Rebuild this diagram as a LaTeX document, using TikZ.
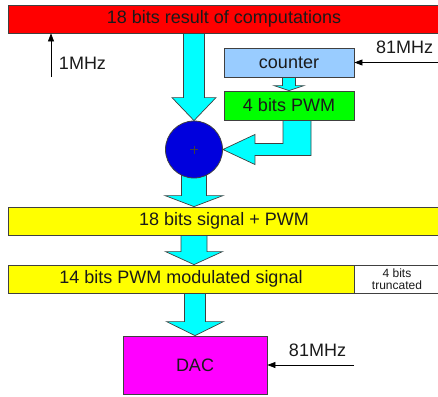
\documentclass[tikz,border=0pt]{standalone}
\usepackage{fontspec}
\setmainfont{Liberation Sans}
\usetikzlibrary{arrows.meta, calc, backgrounds}
\definecolor{cred}{HTML}{FF0000}
\definecolor{ccyan}{HTML}{00FFFF}
\definecolor{csky}{HTML}{99CCFF}
\definecolor{cgreen}{HTML}{00FF00}
\definecolor{cblue}{HTML}{0000DD}
\definecolor{cyellow}{HTML}{FFFF00}
\definecolor{cmagenta}{HTML}{FF00FF}
\definecolor{cline}{HTML}{404040}
\definecolor{ctext}{HTML}{1A1A1A}
\tikzset{
  every picture/.style={font=\fontsize{18}{20}\selectfont, text=ctext},
  bar/.style={draw=cline, fill=#1, line width=0.8pt, minimum height=28pt, inner sep=0pt},
  bar/.default=white,
  fat/.style={draw=cline, fill=ccyan, line width=0.7pt, line join=miter},
  clock/.style={-{Triangle[length=8pt, width=6pt]}, draw=black, line width=0.7pt},
  small/.style={font=\fontsize{12}{13}\selectfont, align=center},
}
% block arrow pointing down: from, tip, half shaft, half head, head length
\newcommand{\fatdown}[5]{%
  \draw[fat] ($(#1)+(-#3,0)$) -- ($(#2)+(-#3,-#5)$) -- ($(#2)+(-#4,-#5)$) -- (#2)
    -- ($(#2)+(#4,-#5)$) -- ($(#2)+(#3,-#5)$) -- ($(#1)+(#3,0)$) -- cycle;}

\begin{document}
\begin{tikzpicture}[x=1pt, y=-1pt]
  \useasboundingbox (0,0) rectangle (438,396);
  \clip (0,0) rectangle (438,396);

  % blocks
  \node[bar=cred, minimum width=432pt] (top) at (224,19) {18 bits result of computations};
  \node[bar=csky, minimum width=130pt, minimum height=29pt] (cnt) at (289,62.5) {counter};
  \node[bar=cgreen, minimum width=130pt, minimum height=29pt] (pwm) at (289,105.5) {4 bits PWM};
  \node[circle, draw=cline, fill=cblue, line width=0.8pt, minimum size=57pt, inner sep=0pt] (sum) at (194,149.5) {};
  \draw[cline, line width=0.5pt] (sum.center) +(-4,0) -- +(4,0) (sum.center) +(0,-4) -- +(0,4);
  \node[bar=cyellow, minimum width=432pt] (sig) at (224,221) {18 bits signal + PWM};
  \node[bar=cyellow, minimum width=346pt] (mod) at (181,279) {14 bits PWM modulated signal};
  \node[bar, minimum width=86pt, small] (trunc) at (397,279) {4 bits\\[-1pt]truncated};
  \node[bar=cmagenta, minimum width=144pt, minimum height=58pt] (dac) at (195,365) {DAC};

  % data flow
  \begin{scope}[on background layer]
    \coordinate (a0) at (top.center -| sum.north);
    \fatdown{a0}{sum.north}{10.5}{22}{23}
    \fatdown{cnt.center}{pwm.north}{6.5}{15}{5}
    \coordinate (a1) at (sig.north -| sum.south);
    \fatdown{sum.center}{a1}{12.5}{29}{11}
    \coordinate (a2) at (sig.center -| sum.south);
    \coordinate (a3) at (mod.north -| sum.south);
    \fatdown{a2}{a3}{13}{28.5}{13}
    \coordinate (a4) at (mod.center -| dac.north);
    \fatdown{a4}{dac.north}{10.5}{28.5}{14}
    % PWM into the adder
    \coordinate (b0) at ($(pwm.center)+(8,0)$);
    \coordinate (b1) at (b0 |- sum.east);
    \draw[fat] ($(b0)+(14,0)$) -- ($(b1)+(14,6)$) -- ($(sum.east)+(32,6)$) -- ($(sum.east)+(32,15)$)
      -- (sum.east) -- ($(sum.east)+(32,-15)$) -- ($(sum.east)+(32,-6)$) -- ($(b1)+(-14,-6)$)
      -- ($(b0)+(-14,0)$) -- cycle;
  \end{scope}

  % clocks
  \coordinate (c0) at (51,77);
  \draw[clock] (c0) -- (c0 |- top.south);
  \node (f0) at (82.5,63) {1MHz};
  \coordinate (c1) at (440,62.5);
  \draw[clock] (c1) -- (cnt.east);
  \node (f1) at (404.5,47.5) {81MHz};
  \coordinate (c2) at (354,365);
  \draw[clock] (c2) -- (dac.east);
  \node (f2) at (317.5,350) {81MHz};
\end{tikzpicture}
\end{document}
